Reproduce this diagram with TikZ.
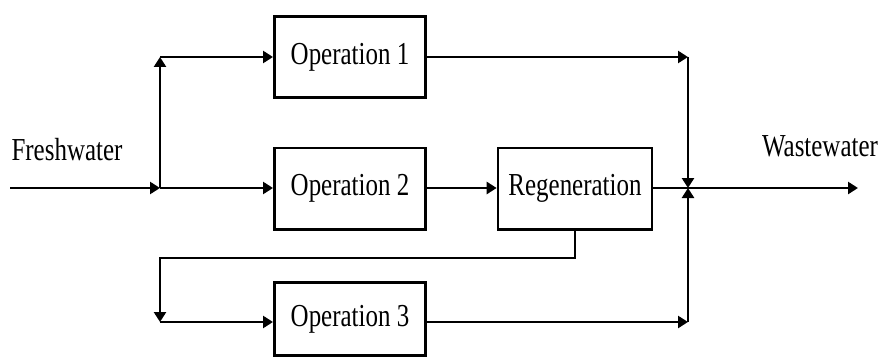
\documentclass[tikz,border=0pt]{standalone}
\usepackage{fontspec}
\setmainfont[FakeStretch=0.78]{Liberation Serif}
\usetikzlibrary{arrows.meta}
\begin{document}
\begin{tikzpicture}[x=0.75pt,y=-0.75pt,
  line width=2.2pt,
  >={Triangle[length=7.5pt,width=9pt]},
  txt/.style={font=\fontsize{24}{28}\selectfont, inner sep=0pt},
  box/.style={txt, draw, line width=2pt, minimum width=113.5pt, minimum height=61pt},
  regbox/.style={box, minimum width=115.5pt},
  flow/.style={->}]
\useasboundingbox (0,0) rectangle (882,360);

\node[box] (op1) at (350,57) {Operation 1};
\node[box] (op2) at (350,188.5) {Operation 2};
\node[box, minimum height=55pt] (op3) at (350,319) {Operation 3};
\node[regbox] (regen) at (575,188.5) {Regeneration};
\node[txt] (fw) at (67,150) {Freshwater};
\node[txt] (ww) at (820,146) {Wastewater};

\coordinate (F0) at (10,188);
\coordinate (J1) at (160,188);
\coordinate (J1t) at (160,57);
\coordinate (Jfb) at (160,258);
\coordinate (J3) at (160,322);
\coordinate (K1) at (688,57);
\coordinate (K2) at (688,188);
\coordinate (K3) at (688,322);
\coordinate (W) at (858,188);

\draw[flow] (F0) -- (J1);
\draw[flow] (J1) -- (J1 -| op2.west);
\draw[flow] (J1) -- (J1t);
\draw[flow] (J1t) -- (J1t -| op1.west);
\draw[flow] (J1 -| op2.east) -- (J1 -| regen.west);
\draw[flow] (K1 -| op1.east) -- (K1);
\draw[flow] (K1) -- (K2);
\draw[flow] (K3 -| op3.east) -- (K3);
\draw[flow] (K3) -- (K2);
\draw[flow] (K2 -| regen.east) -- (W);
\draw[flow] (regen.south) |- (Jfb) -- (J3);
\draw[flow] (J3) -- (J3 -| op3.west);
\end{tikzpicture}
\end{document}
